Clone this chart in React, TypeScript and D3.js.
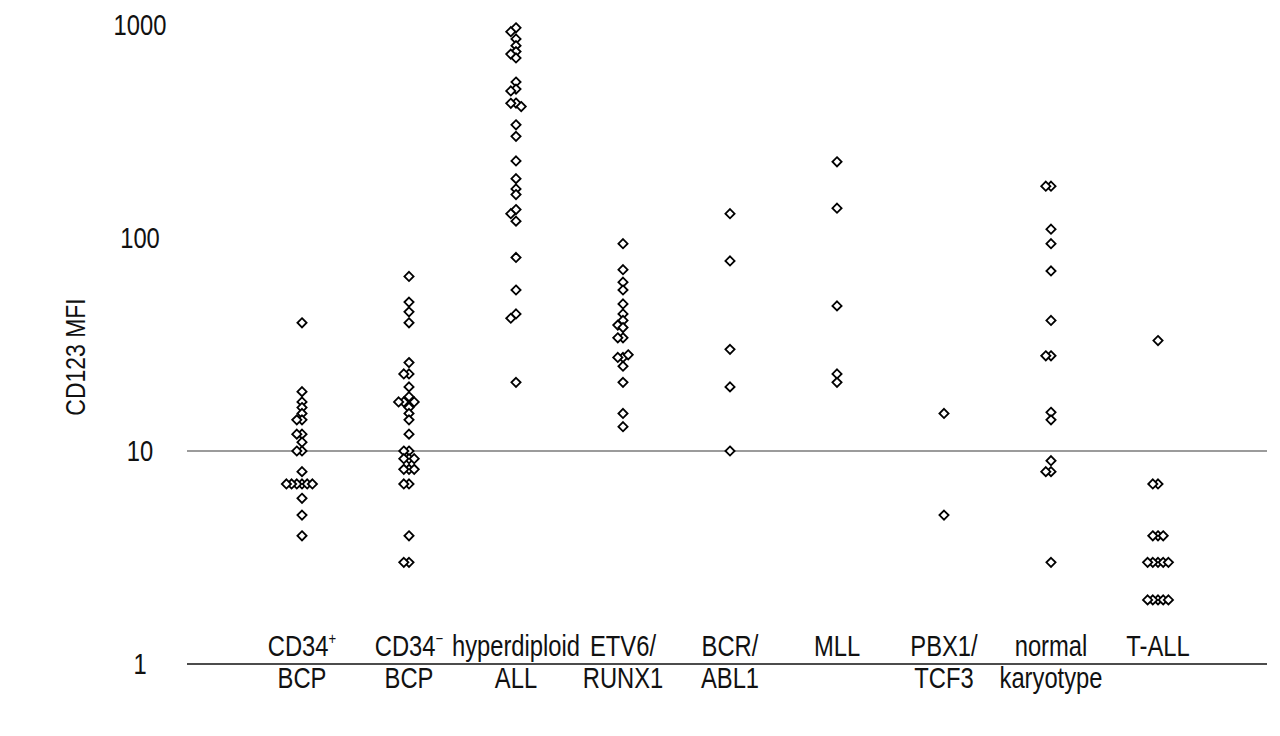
import React from "react";
import * as d3 from "d3";

const categories = ["CD34+ BCP", "CD34- BCP", "hyperdiploid ALL", "ETV6/RUNX1", "BCR/ABL1", "MLL", "PBX1/TCF3", "normal karyotype", "T-ALL"];
const labelTop = ["CD34⁺", "CD34⁻", "hyperdiploid", "ETV6/", "BCR/", "MLL", "PBX1/", "normal", "T-ALL"];
const labelBottom = ["BCP", "BCP", "ALL", "RUNX1", "ABL1", "", "TCF3", "karyotype", ""];

const cd34posBCP = [40, 19, 17, 16, 15, 14, 14, 12, 12, 11, 10, 10, 8, 7, 7, 7, 7, 7, 7, 6, 5, 4];
const cd34negBCP = [66, 50, 45, 40, 26, 23, 23, 20, 18, 17, 17, 17, 16, 15, 14, 12, 10, 10, 9.2, 9.2, 9.2, 8.2, 8.2, 8.2, 7, 7, 4, 3, 3];
const hyperdiploid = [970, 930, 860, 800, 750, 730, 700, 540, 500, 490, 430, 429, 414, 340, 300, 230, 190, 170, 160, 136, 130, 120, 81, 57, 44, 42, 21];
const etv6runx1 = [94, 71, 62, 57, 49, 44, 41, 39, 38, 34, 34, 27.5, 27.5, 28.3, 25, 21, 15, 13];
const bcrabl1 = [130, 78, 30, 20, 10];
const mll = [228, 138, 48, 23, 21];
const pbx1tcf3 = [15, 5];
const normalKaryotype = [175, 175, 110, 94, 70, 41, 28, 28, 15.2, 14, 9, 8, 8, 3];
const tall = [33, 7, 7, 4, 4, 4, 3, 3, 3, 3, 3, 2, 2, 2, 2, 2];

const seriesValues = [cd34posBCP, cd34negBCP, hyperdiploid, etv6runx1, bcrabl1, mll, pbx1tcf3, normalKaryotype, tall];
const tickValues = [1, 10, 100, 1000];
const tickLabels = ["1", "10", "100", "1000"];
const yTitle = "CD123 MFI";

const FONT = "'Liberation Sans', Arial, Helvetica, sans-serif";
const SX = 0.82;

export default function App() {
  const W = 1280, H = 736;
  const left = 187, right = 1267;
  const y = d3.scaleLog().domain([1, 1000]).range([664, 25]);
  const x = d3.scalePoint<string>().domain(categories).range([195, 1265]).padding(1);
  const s = 5.2;
  const r = 4.6;

  const points: { cx: number; cy: number; key: string }[] = [];
  seriesValues.forEach((vals, ci) => {
    const cx0 = x(categories[ci]) as number;
    const placed: { px: number; py: number }[] = [];
    vals.forEach((v, i) => {
      const py = y(v);
      let k = 0;
      let px = cx0;
      while (true) {
        const off = k === 0 ? 0 : (k % 2 ? -1 : 1) * Math.ceil(k / 2) * s;
        px = cx0 + off;
        const hit = placed.some(p => Math.abs(p.py - py) < 5.5 && Math.abs(p.px - px) < s * 0.6);
        if (!hit) break;
        k++;
      }
      placed.push({ px, py });
      points.push({ cx: px, cy: py, key: `${ci}-${i}` });
    });
  });

  const diamond = (cx: number, cy: number) => `M${cx},${cy - r}L${cx + r},${cy}L${cx},${cy + r}L${cx - r},${cy}Z`;
  const axisY = y(1);

  const renderTop = (t: string) => {
    const m = t.match(/^(.*?)([⁺⁻])$/);
    if (m) {
      return (
        <>
          {m[1]}
          <tspan fontSize={16} dy={-12}>{m[2] === "⁺" ? "+" : "−"}</tspan>
        </>
      );
    }
    return t;
  };

  return (
    <svg width={W} height={H} style={{ position: "absolute", left: 0, top: 0, background: "#fff" }}>
      <rect x={0} y={0} width={W} height={H} fill="#fff" />
      <line x1={left} x2={right} y1={y(10)} y2={y(10)} stroke="#7a7a7a" strokeWidth={1.6} />
      <line x1={left} x2={right} y1={axisY} y2={axisY} stroke="#111" strokeWidth={1.4} />
      {tickValues.map((t, i) => (
        <text key={t} transform={`translate(140,${y(t) + 2}) scale(${SX},1)`} textAnchor="middle" dominantBaseline="middle" fontFamily={FONT} fontSize={29} fill="#111">
          {tickLabels[i]}
        </text>
      ))}
      <text transform={`translate(78,357) rotate(-90) scale(${SX},1)`} textAnchor="middle" dominantBaseline="middle" fontFamily={FONT} fontSize={28} fill="#111">
        {yTitle}
      </text>
      {categories.map((c, i) => (
        <g key={c} fontFamily={FONT} fontSize={29} fill="#111" textAnchor="middle">
          <text transform={`translate(${x(c)},${axisY - 8}) scale(${SX},1)`}>{renderTop(labelTop[i])}</text>
          {labelBottom[i] && <text transform={`translate(${x(c)},${axisY + 24}) scale(${SX},1)`}>{labelBottom[i]}</text>}
        </g>
      ))}
      {points.map(p => (
        <path key={p.key} d={diamond(p.cx, p.cy)} fill="#fff" stroke="#000" strokeWidth={1.8} />
      ))}
    </svg>
  );
}
